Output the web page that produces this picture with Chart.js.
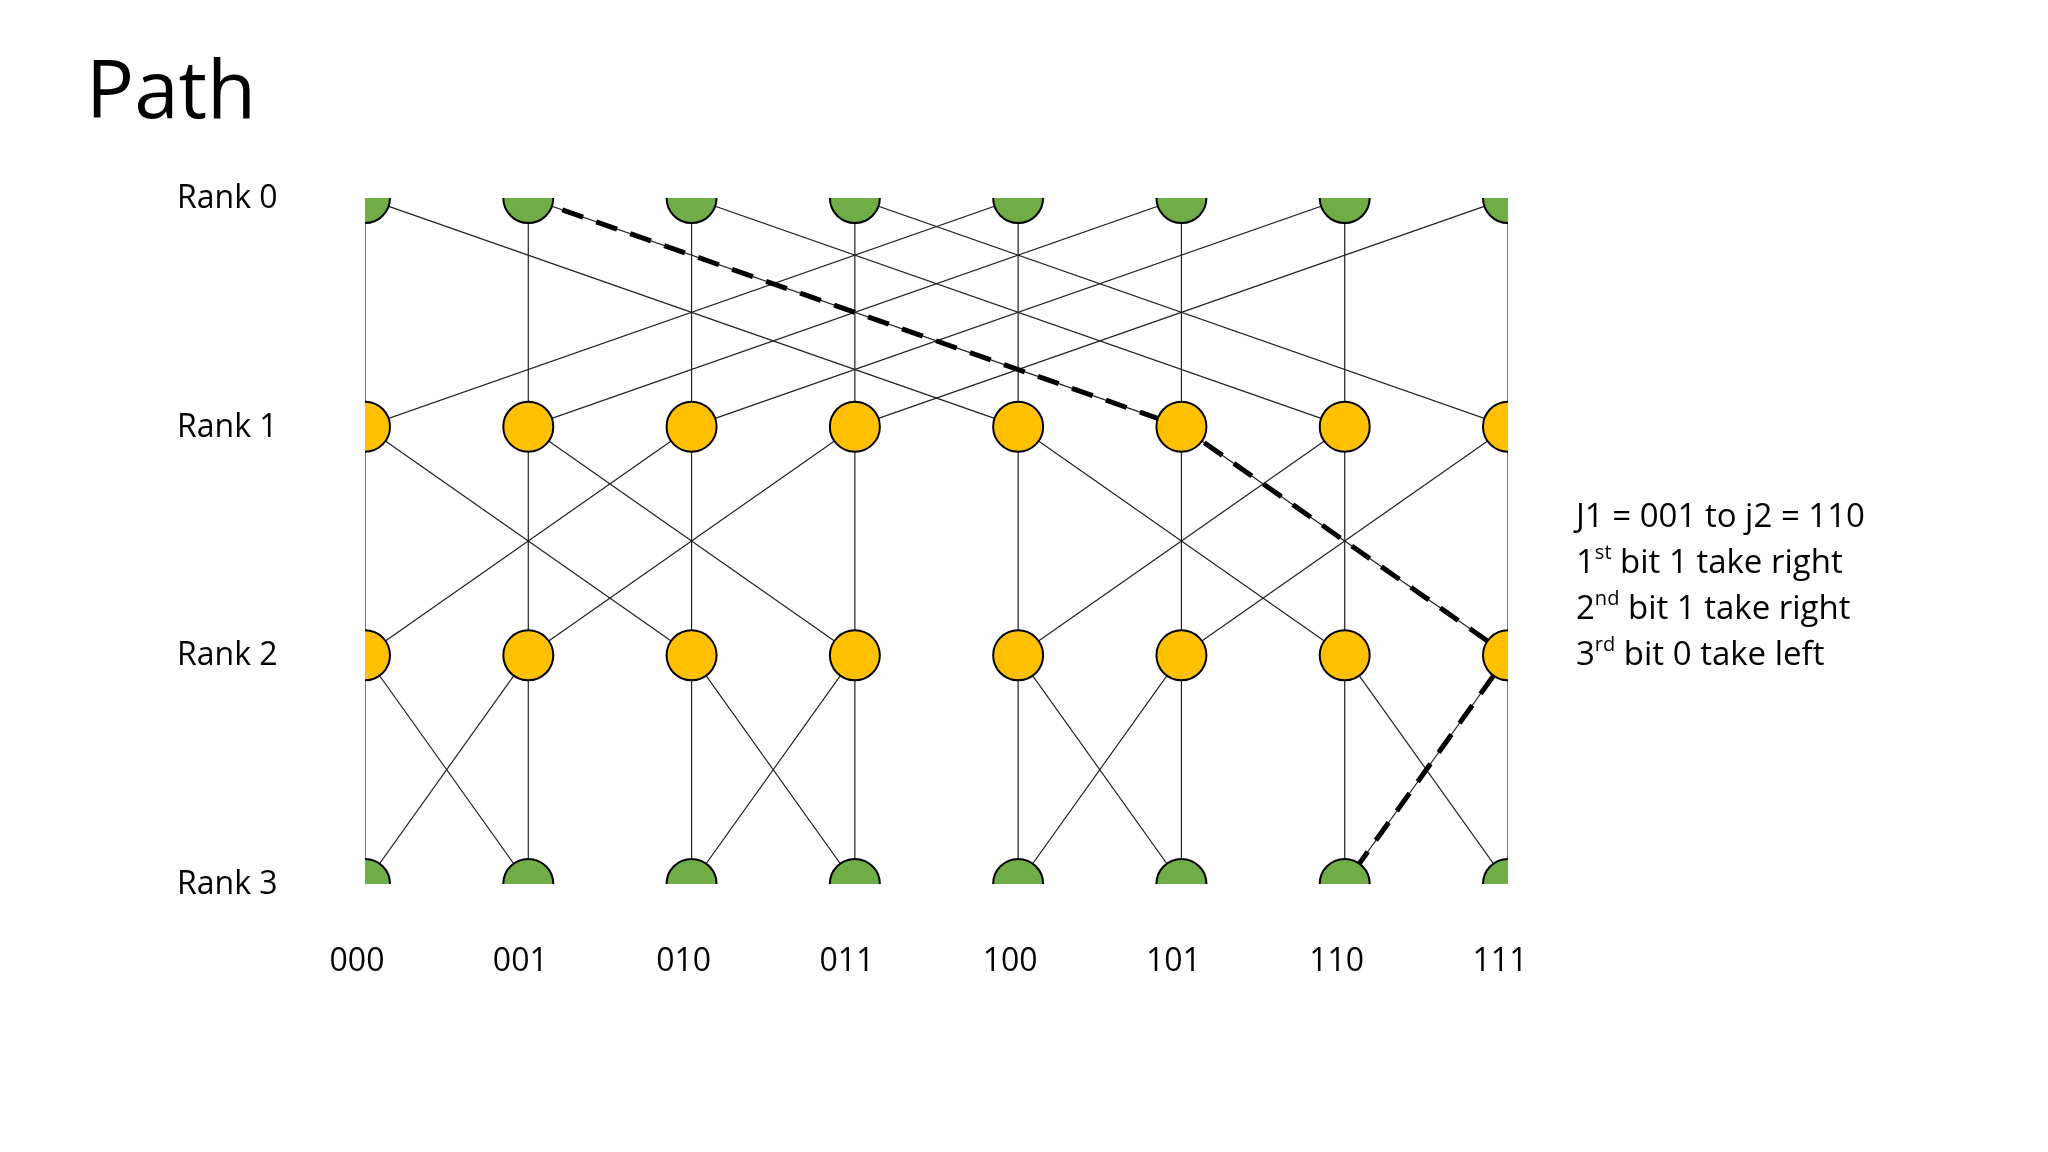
<!DOCTYPE html>
<html>
<head>
<meta charset="utf-8">
<script src="https://cdn.jsdelivr.net/npm/chart.js@4"></script>
<style>
  html, body { margin: 0; padding: 0; background: #fff; }
  #wrap { width: 2048px; height: 1152px; }
</style>
</head>
<body>
<div id="wrap"><canvas id="myChart"></canvas></div>
<script>
var columns = ['000', '001', '010', '011', '100', '101', '110', '111'];
var ranks = ['Rank 0', 'Rank 1', 'Rank 2', 'Rank 3'];
var rankColors = ['#70AD47', '#FFC000', '#FFC000', '#70AD47'];
var pathNodes = [1, 5, 7, 6];
var notes = ['J1 = 001 to j2 = 110', ['1', 'st', ' bit 1 take right'], ['2', 'nd', ' bit 1 take right'], ['3', 'rd', ' bit 0 take left']];

var datasets = [];

// butterfly edges: rank r node i goes to i and i xor (4 >> r)
for (var r = 0; r < ranks.length - 1; r++) {
    for (var i = 0; i < columns.length; i++) {
        var j = i ^ (4 >> r);
        [i, j].forEach(function (t) {
            datasets.push({
                data: [{ x: i, y: r }, { x: t, y: r + 1 }],
                showLine: true,
                borderColor: '#222',
                borderWidth: 1.2,
                pointRadius: 0,
                order: 2
            });
        });
    }
}

datasets.push({
    data: pathNodes.map(function (n, r) { return { x: n, y: r }; }),
    showLine: true,
    borderColor: '#000',
    borderWidth: 5,
    borderDash: [22, 14],
    pointRadius: 0,
    order: 1
});

for (var r = 0; r < ranks.length; r++) {
    var pts = [];
    for (var i = 0; i < columns.length; i++) pts.push({ x: i, y: r });
    datasets.push({
        data: pts,
        showLine: false,
        pointRadius: 25,
        pointBackgroundColor: rankColors[r],
        pointBorderColor: '#000',
        pointBorderWidth: 2,
        order: 0
    });
}

var labelsPlugin = {
    id: 'labels',
    afterDraw: function (chart) {
        var ctx = chart.ctx;
        var xs = chart.scales.x, ys = chart.scales.y;
        ctx.save();
        ctx.fillStyle = '#000';
        ctx.font = '80px "Open Sans", Calibri, sans-serif';
        ctx.textBaseline = 'alphabetic';
        ctx.fillText('Path', 86, 118);

        ctx.font = '32px "Open Sans", sans-serif';
        ctx.textBaseline = 'middle';
        ranks.forEach(function (t, r) {
            ctx.fillText(t, 177, ys.getPixelForValue(r) + 1);
        });
        ctx.textAlign = 'center';
        columns.forEach(function (t, i) {
            ctx.fillText(t, xs.getPixelForValue(i) - 8, 962);
        });
        ctx.textAlign = 'left';
        notes.forEach(function (n, k) {
            var y = 518 + k * 46;
            var x = 1576;
            ctx.font = '33px "Open Sans", sans-serif';
            if (typeof n === 'string') { ctx.fillText(n, x, y); return; }
            ctx.fillText(n[0], x, y);
            x += ctx.measureText(n[0]).width;
            ctx.font = '20px "Open Sans", sans-serif';
            ctx.fillText(n[1], x, y - 11);
            x += ctx.measureText(n[1]).width;
            ctx.font = '33px "Open Sans", sans-serif';
            ctx.fillText(n[2], x, y);
        });
        ctx.restore();
    }
};

new Chart(document.getElementById('myChart'), {
    type: 'scatter',
    data: { datasets: datasets },
    options: {
        responsive: true,
        maintainAspectRatio: false,
        animation: false,
        layout: { padding: { left: 365, right: 540, top: 198, bottom: 268 } },
        plugins: { legend: { display: false }, tooltip: { enabled: false }, title: { display: false } },
        scales: {
            x: { type: 'linear', min: 0, max: 7, display: false },
            y: { type: 'linear', min: 0, max: 3, reverse: true, display: false }
        }
    },
    plugins: [labelsPlugin]
});
</script>
</body>
</html>
